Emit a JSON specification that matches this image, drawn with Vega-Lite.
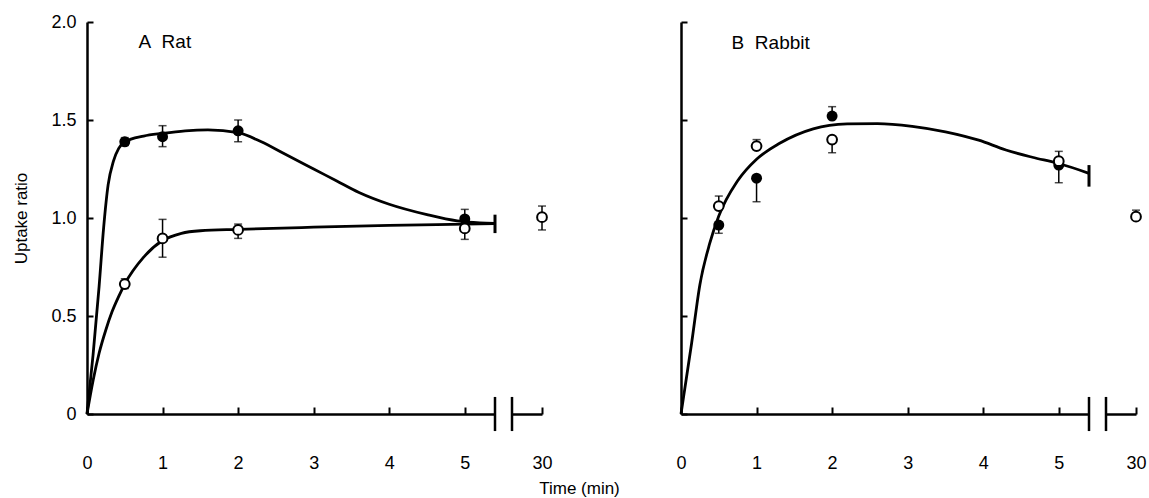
{
  "$schema": "https://vega.github.io/schema/vega-lite/v6.json",
  "padding": {"left": 12, "top": 13, "right": 2, "bottom": 2},
  "title": {"text": "Time (min)", "orient": "bottom", "anchor": "middle", "frame": "bounds", "fontSize": 17, "font": "Liberation Sans", "fontWeight": "normal", "color": "black", "offset": 9},
  "datasets": {
    "one": [{}],
    "pts": [
      {"sp": "Rat", "g": "filled", "t": 0.5, "y": 1.389, "lo": 1.37, "hi": 1.41},
      {"sp": "Rat", "g": "filled", "t": 1, "y": 1.415, "lo": 1.364, "hi": 1.471},
      {"sp": "Rat", "g": "filled", "t": 2, "y": 1.445, "lo": 1.389, "hi": 1.5},
      {"sp": "Rat", "g": "filled", "t": 5, "y": 0.995, "lo": 0.995, "hi": 1.044},
      {"sp": "Rat", "g": "open", "t": 0.5, "y": 0.663, "lo": 0.64, "hi": 0.69},
      {"sp": "Rat", "g": "open", "t": 1, "y": 0.896, "lo": 0.8, "hi": 0.993},
      {"sp": "Rat", "g": "open", "t": 2, "y": 0.939, "lo": 0.896, "hi": 0.969},
      {"sp": "Rat", "g": "open", "t": 5, "y": 0.947, "lo": 0.891, "hi": 0.947},
      {"sp": "Rat", "g": "open", "t": 30, "y": 1.004, "lo": 0.939, "hi": 1.061},
      {"sp": "Rabbit", "g": "filled", "t": 0.5, "y": 0.964, "lo": 0.922, "hi": 0.964},
      {"sp": "Rabbit", "g": "filled", "t": 1, "y": 1.203, "lo": 1.083, "hi": 1.203},
      {"sp": "Rabbit", "g": "filled", "t": 2, "y": 1.52, "lo": 1.52, "hi": 1.568},
      {"sp": "Rabbit", "g": "filled", "t": 5, "y": 1.27, "lo": 1.27, "hi": 1.27},
      {"sp": "Rabbit", "g": "open", "t": 0.5, "y": 1.061, "lo": 1.061, "hi": 1.112},
      {"sp": "Rabbit", "g": "open", "t": 1, "y": 1.367, "lo": 1.367, "hi": 1.4},
      {"sp": "Rabbit", "g": "open", "t": 2, "y": 1.4, "lo": 1.333, "hi": 1.4},
      {"sp": "Rabbit", "g": "open", "t": 5, "y": 1.29, "lo": 1.18, "hi": 1.34},
      {"sp": "Rabbit", "g": "open", "t": 30, "y": 1.007, "lo": 1.007, "hi": 1.04}
    ],
    "curves": [
      {"sp": "Rat", "c": "filled", "t": 0, "y": 0},
      {"sp": "Rat", "c": "filled", "t": 0.08, "y": 0.3},
      {"sp": "Rat", "c": "filled", "t": 0.16, "y": 0.65},
      {"sp": "Rat", "c": "filled", "t": 0.22, "y": 0.95},
      {"sp": "Rat", "c": "filled", "t": 0.28, "y": 1.17},
      {"sp": "Rat", "c": "filled", "t": 0.35, "y": 1.29},
      {"sp": "Rat", "c": "filled", "t": 0.42, "y": 1.355},
      {"sp": "Rat", "c": "filled", "t": 0.5, "y": 1.388},
      {"sp": "Rat", "c": "filled", "t": 0.75, "y": 1.418},
      {"sp": "Rat", "c": "filled", "t": 1.0, "y": 1.432},
      {"sp": "Rat", "c": "filled", "t": 1.3, "y": 1.445},
      {"sp": "Rat", "c": "filled", "t": 1.6, "y": 1.45},
      {"sp": "Rat", "c": "filled", "t": 2.0, "y": 1.435},
      {"sp": "Rat", "c": "filled", "t": 2.3, "y": 1.39},
      {"sp": "Rat", "c": "filled", "t": 2.6, "y": 1.33},
      {"sp": "Rat", "c": "filled", "t": 3.0, "y": 1.25},
      {"sp": "Rat", "c": "filled", "t": 3.3, "y": 1.19},
      {"sp": "Rat", "c": "filled", "t": 3.6, "y": 1.13},
      {"sp": "Rat", "c": "filled", "t": 4.0, "y": 1.07},
      {"sp": "Rat", "c": "filled", "t": 4.5, "y": 1.017},
      {"sp": "Rat", "c": "filled", "t": 4.9, "y": 0.985},
      {"sp": "Rat", "c": "filled", "t": 5.2, "y": 0.975},
      {"sp": "Rat", "c": "filled", "t": 5.4, "y": 0.973},
      {"sp": "Rat", "c": "open", "t": 0, "y": 0},
      {"sp": "Rat", "c": "open", "t": 0.08, "y": 0.17},
      {"sp": "Rat", "c": "open", "t": 0.16, "y": 0.31},
      {"sp": "Rat", "c": "open", "t": 0.25, "y": 0.43},
      {"sp": "Rat", "c": "open", "t": 0.33, "y": 0.52},
      {"sp": "Rat", "c": "open", "t": 0.42, "y": 0.6},
      {"sp": "Rat", "c": "open", "t": 0.5, "y": 0.663},
      {"sp": "Rat", "c": "open", "t": 0.75, "y": 0.8},
      {"sp": "Rat", "c": "open", "t": 1.0, "y": 0.885},
      {"sp": "Rat", "c": "open", "t": 1.25, "y": 0.922},
      {"sp": "Rat", "c": "open", "t": 1.5, "y": 0.935},
      {"sp": "Rat", "c": "open", "t": 2.0, "y": 0.942},
      {"sp": "Rat", "c": "open", "t": 3.0, "y": 0.953},
      {"sp": "Rat", "c": "open", "t": 4.0, "y": 0.962},
      {"sp": "Rat", "c": "open", "t": 5.0, "y": 0.969},
      {"sp": "Rat", "c": "open", "t": 5.4, "y": 0.972},
      {"sp": "Rabbit", "c": "all", "t": 0, "y": 0},
      {"sp": "Rabbit", "c": "all", "t": 0.07, "y": 0.18},
      {"sp": "Rabbit", "c": "all", "t": 0.14, "y": 0.36},
      {"sp": "Rabbit", "c": "all", "t": 0.25, "y": 0.66},
      {"sp": "Rabbit", "c": "all", "t": 0.38, "y": 0.87},
      {"sp": "Rabbit", "c": "all", "t": 0.5, "y": 1.01},
      {"sp": "Rabbit", "c": "all", "t": 0.75, "y": 1.19},
      {"sp": "Rabbit", "c": "all", "t": 1.0, "y": 1.3},
      {"sp": "Rabbit", "c": "all", "t": 1.3, "y": 1.38},
      {"sp": "Rabbit", "c": "all", "t": 1.75, "y": 1.455},
      {"sp": "Rabbit", "c": "all", "t": 2.2, "y": 1.48},
      {"sp": "Rabbit", "c": "all", "t": 2.6, "y": 1.482},
      {"sp": "Rabbit", "c": "all", "t": 3.06, "y": 1.468},
      {"sp": "Rabbit", "c": "all", "t": 3.5, "y": 1.44},
      {"sp": "Rabbit", "c": "all", "t": 3.94, "y": 1.397},
      {"sp": "Rabbit", "c": "all", "t": 4.3, "y": 1.347},
      {"sp": "Rabbit", "c": "all", "t": 4.65, "y": 1.31},
      {"sp": "Rabbit", "c": "all", "t": 5.0, "y": 1.278},
      {"sp": "Rabbit", "c": "all", "t": 5.4, "y": 1.228}
    ]
  },
  "spacing": 122,
  "hconcat": [
    {
      "bounds": "flush",
      "spacing": 17,
      "hconcat": [
        {
          "width": 408, "height": 392,
          "layer": [
            {"data": {"name": "curves"}, "transform": [{"filter": "datum.sp == 'Rat'"}],
             "mark": {"type": "line", "interpolate": "monotone", "color": "black", "strokeWidth": 2.8},
             "encoding": {
               "x": {"field": "t", "type": "quantitative", "scale": {"domain": [0, 5.4], "nice": false, "zero": false},
                     "axis": {"values": [0, 1, 2, 3, 4, 5], "title": null, "tickSize": -7, "labelPadding": 47, "labelFlush": false, "labelOverlap": false, "format": "d"}},
               "y": {"field": "y", "type": "quantitative", "scale": {"domain": [0, 2], "nice": false},
                     "axis": {"values": [0, 0.5, 1, 1.5, 2], "title": "Uptake ratio", "tickSize": -6, "labelPadding": 17, "titlePadding": 20, "labelOverlap": false, "labelExpr": "datum.value == 0 ? '0' : format(datum.value, '.1f')"}},
               "detail": {"field": "c"}
             }},
            {"data": {"name": "pts"}, "transform": [{"filter": "datum.sp == 'Rat' && datum.t < 10"}],
             "mark": {"type": "rule", "color": "black", "strokeWidth": 1.5},
             "encoding": {"x": {"field": "t", "type": "quantitative"}, "y": {"field": "lo", "type": "quantitative"}, "y2": {"field": "hi"}}},
            {"data": {"name": "pts"}, "transform": [{"filter": "datum.sp == 'Rat' && datum.t < 10"}],
             "mark": {"type": "tick", "orient": "horizontal", "color": "black", "thickness": 1.5, "size": 8},
             "encoding": {"x": {"field": "t", "type": "quantitative"}, "y": {"field": "lo", "type": "quantitative"}}},
            {"data": {"name": "pts"}, "transform": [{"filter": "datum.sp == 'Rat' && datum.t < 10"}],
             "mark": {"type": "tick", "orient": "horizontal", "color": "black", "thickness": 1.5, "size": 8},
             "encoding": {"x": {"field": "t", "type": "quantitative"}, "y": {"field": "hi", "type": "quantitative"}}},
            {"data": {"name": "pts"}, "transform": [{"filter": "datum.sp == 'Rat' && datum.t < 10 && datum.g == 'filled'"}],
             "mark": {"type": "point", "shape": "circle", "filled": true, "color": "black", "size": 120, "opacity": 1},
             "encoding": {"x": {"field": "t", "type": "quantitative"}, "y": {"field": "y", "type": "quantitative"}}},
            {"data": {"name": "pts"}, "transform": [{"filter": "datum.sp == 'Rat' && datum.t < 10 && datum.g == 'open'"}],
             "mark": {"type": "point", "shape": "circle", "filled": true, "fill": "white", "stroke": "black", "strokeWidth": 2, "size": 95, "opacity": 1},
             "encoding": {"x": {"field": "t", "type": "quantitative"}, "y": {"field": "y", "type": "quantitative"}}},
            {"data": {"name": "one"},
             "mark": {"type": "rule", "color": "black", "strokeWidth": 2.5},
             "encoding": {"x": {"datum": 5.4, "type": "quantitative"}, "y": {"datum": -0.087, "type": "quantitative"}, "y2": {"datum": 0.087}}},
            {"data": {"name": "one"},
             "mark": {"type": "rule", "color": "black", "strokeWidth": 3},
             "encoding": {"x": {"datum": 5.4, "type": "quantitative"}, "y": {"datum": 0.923, "type": "quantitative"}, "y2": {"datum": 1.017}}},
            {"data": {"name": "one"},
             "mark": {"type": "text", "text": "A\u00a0\u00a0Rat", "align": "left", "baseline": "middle", "fontSize": 19, "font": "Liberation Sans", "color": "black"},
             "encoding": {"x": {"datum": 0.68, "type": "quantitative"}, "y": {"datum": 1.9, "type": "quantitative"}}}
          ]
        },
        {
          "width": 30, "height": 392,
          "layer": [
            {"data": {"name": "pts"}, "transform": [{"filter": "datum.sp == 'Rat' && datum.t == 30"}],
             "mark": {"type": "rule", "color": "black", "strokeWidth": 1.5},
             "encoding": {
               "x": {"field": "t", "type": "quantitative", "scale": {"domain": [29, 30], "nice": false, "zero": false},
                     "axis": {"values": [30], "title": null, "tickSize": -7, "labelPadding": 47, "labelFlush": false, "labelOverlap": false, "format": "d"}},
               "y": {"field": "lo", "type": "quantitative", "scale": {"domain": [0, 2], "nice": false}, "axis": null},
               "y2": {"field": "hi"}}},
            {"data": {"name": "pts"}, "transform": [{"filter": "datum.sp == 'Rat' && datum.t == 30"}],
             "mark": {"type": "tick", "orient": "horizontal", "color": "black", "thickness": 1.5, "size": 8},
             "encoding": {"x": {"field": "t", "type": "quantitative"}, "y": {"field": "lo", "type": "quantitative", "axis": null}}},
            {"data": {"name": "pts"}, "transform": [{"filter": "datum.sp == 'Rat' && datum.t == 30"}],
             "mark": {"type": "tick", "orient": "horizontal", "color": "black", "thickness": 1.5, "size": 8},
             "encoding": {"x": {"field": "t", "type": "quantitative"}, "y": {"field": "hi", "type": "quantitative", "axis": null}}},
            {"data": {"name": "pts"}, "transform": [{"filter": "datum.sp == 'Rat' && datum.t == 30"}],
             "mark": {"type": "point", "shape": "circle", "filled": true, "fill": "white", "stroke": "black", "strokeWidth": 2, "size": 95, "opacity": 1},
             "encoding": {"x": {"field": "t", "type": "quantitative"}, "y": {"field": "y", "type": "quantitative", "axis": null}}},
            {"data": {"name": "one"},
             "mark": {"type": "rule", "color": "black", "strokeWidth": 2.5},
             "encoding": {"x": {"datum": 29, "type": "quantitative"}, "y": {"datum": -0.087, "type": "quantitative", "axis": null}, "y2": {"datum": 0.087}}}
          ]
        }
      ]
    },
    {
      "bounds": "flush",
      "spacing": 17,
      "hconcat": [
        {
          "width": 408, "height": 392,
          "layer": [
            {"data": {"name": "curves"}, "transform": [{"filter": "datum.sp == 'Rabbit'"}],
             "mark": {"type": "line", "interpolate": "monotone", "color": "black", "strokeWidth": 2.8},
             "encoding": {
               "x": {"field": "t", "type": "quantitative", "scale": {"domain": [0, 5.4], "nice": false, "zero": false},
                     "axis": {"values": [0, 1, 2, 3, 4, 5], "title": null, "tickSize": -7, "labelPadding": 47, "labelFlush": false, "labelOverlap": false, "format": "d"}},
               "y": {"field": "y", "type": "quantitative", "scale": {"domain": [0, 2], "nice": false},
                     "axis": {"values": [0, 0.5, 1, 1.5, 2], "title": null, "tickSize": -6, "labels": false}},
               "detail": {"field": "c"}
             }},
            {"data": {"name": "pts"}, "transform": [{"filter": "datum.sp == 'Rabbit' && datum.t < 10"}],
             "mark": {"type": "rule", "color": "black", "strokeWidth": 1.5},
             "encoding": {"x": {"field": "t", "type": "quantitative"}, "y": {"field": "lo", "type": "quantitative"}, "y2": {"field": "hi"}}},
            {"data": {"name": "pts"}, "transform": [{"filter": "datum.sp == 'Rabbit' && datum.t < 10"}],
             "mark": {"type": "tick", "orient": "horizontal", "color": "black", "thickness": 1.5, "size": 8},
             "encoding": {"x": {"field": "t", "type": "quantitative"}, "y": {"field": "lo", "type": "quantitative"}}},
            {"data": {"name": "pts"}, "transform": [{"filter": "datum.sp == 'Rabbit' && datum.t < 10"}],
             "mark": {"type": "tick", "orient": "horizontal", "color": "black", "thickness": 1.5, "size": 8},
             "encoding": {"x": {"field": "t", "type": "quantitative"}, "y": {"field": "hi", "type": "quantitative"}}},
            {"data": {"name": "pts"}, "transform": [{"filter": "datum.sp == 'Rabbit' && datum.t < 10 && datum.g == 'filled'"}],
             "mark": {"type": "point", "shape": "circle", "filled": true, "color": "black", "size": 120, "opacity": 1},
             "encoding": {"x": {"field": "t", "type": "quantitative"}, "y": {"field": "y", "type": "quantitative"}}},
            {"data": {"name": "pts"}, "transform": [{"filter": "datum.sp == 'Rabbit' && datum.t < 10 && datum.g == 'open'"}],
             "mark": {"type": "point", "shape": "circle", "filled": true, "fill": "white", "stroke": "black", "strokeWidth": 2, "size": 95, "opacity": 1},
             "encoding": {"x": {"field": "t", "type": "quantitative"}, "y": {"field": "y", "type": "quantitative"}}},
            {"data": {"name": "one"},
             "mark": {"type": "rule", "color": "black", "strokeWidth": 2.5},
             "encoding": {"x": {"datum": 5.4, "type": "quantitative"}, "y": {"datum": -0.087, "type": "quantitative"}, "y2": {"datum": 0.087}}},
            {"data": {"name": "one"},
             "mark": {"type": "rule", "color": "black", "strokeWidth": 3},
             "encoding": {"x": {"datum": 5.4, "type": "quantitative"}, "y": {"datum": 1.16, "type": "quantitative"}, "y2": {"datum": 1.27}}},
            {"data": {"name": "one"},
             "mark": {"type": "text", "text": "B\u00a0\u00a0Rabbit", "align": "left", "baseline": "middle", "fontSize": 19, "font": "Liberation Sans", "color": "black"},
             "encoding": {"x": {"datum": 0.67, "type": "quantitative"}, "y": {"datum": 1.895, "type": "quantitative"}}}
          ]
        },
        {
          "width": 30, "height": 392,
          "layer": [
            {"data": {"name": "pts"}, "transform": [{"filter": "datum.sp == 'Rabbit' && datum.t == 30"}],
             "mark": {"type": "rule", "color": "black", "strokeWidth": 1.5},
             "encoding": {
               "x": {"field": "t", "type": "quantitative", "scale": {"domain": [29, 30], "nice": false, "zero": false},
                     "axis": {"values": [30], "title": null, "tickSize": -7, "labelPadding": 47, "labelFlush": false, "labelOverlap": false, "format": "d"}},
               "y": {"field": "lo", "type": "quantitative", "scale": {"domain": [0, 2], "nice": false}, "axis": null},
               "y2": {"field": "hi"}}},
            {"data": {"name": "pts"}, "transform": [{"filter": "datum.sp == 'Rabbit' && datum.t == 30"}],
             "mark": {"type": "tick", "orient": "horizontal", "color": "black", "thickness": 1.5, "size": 8},
             "encoding": {"x": {"field": "t", "type": "quantitative"}, "y": {"field": "lo", "type": "quantitative", "axis": null}}},
            {"data": {"name": "pts"}, "transform": [{"filter": "datum.sp == 'Rabbit' && datum.t == 30"}],
             "mark": {"type": "tick", "orient": "horizontal", "color": "black", "thickness": 1.5, "size": 8},
             "encoding": {"x": {"field": "t", "type": "quantitative"}, "y": {"field": "hi", "type": "quantitative", "axis": null}}},
            {"data": {"name": "pts"}, "transform": [{"filter": "datum.sp == 'Rabbit' && datum.t == 30"}],
             "mark": {"type": "point", "shape": "circle", "filled": true, "fill": "white", "stroke": "black", "strokeWidth": 2, "size": 95, "opacity": 1},
             "encoding": {"x": {"field": "t", "type": "quantitative"}, "y": {"field": "y", "type": "quantitative", "axis": null}}},
            {"data": {"name": "one"},
             "mark": {"type": "rule", "color": "black", "strokeWidth": 2.5},
             "encoding": {"x": {"datum": 29, "type": "quantitative"}, "y": {"datum": -0.087, "type": "quantitative", "axis": null}, "y2": {"datum": 0.087}}}
          ]
        }
      ]
    }
  ],
  "config": {
    "view": {"stroke": null},
    "font": "Liberation Sans",
    "axis": {"grid": false, "domainColor": "black", "domainWidth": 2.5, "tickColor": "black", "tickWidth": 2, "labelColor": "black", "labelFontSize": 18, "labelFont": "Liberation Sans", "titleFont": "Liberation Sans", "titleFontSize": 17, "titleFontWeight": "normal", "titleColor": "black", "labelAngle": 0}
  }
}
